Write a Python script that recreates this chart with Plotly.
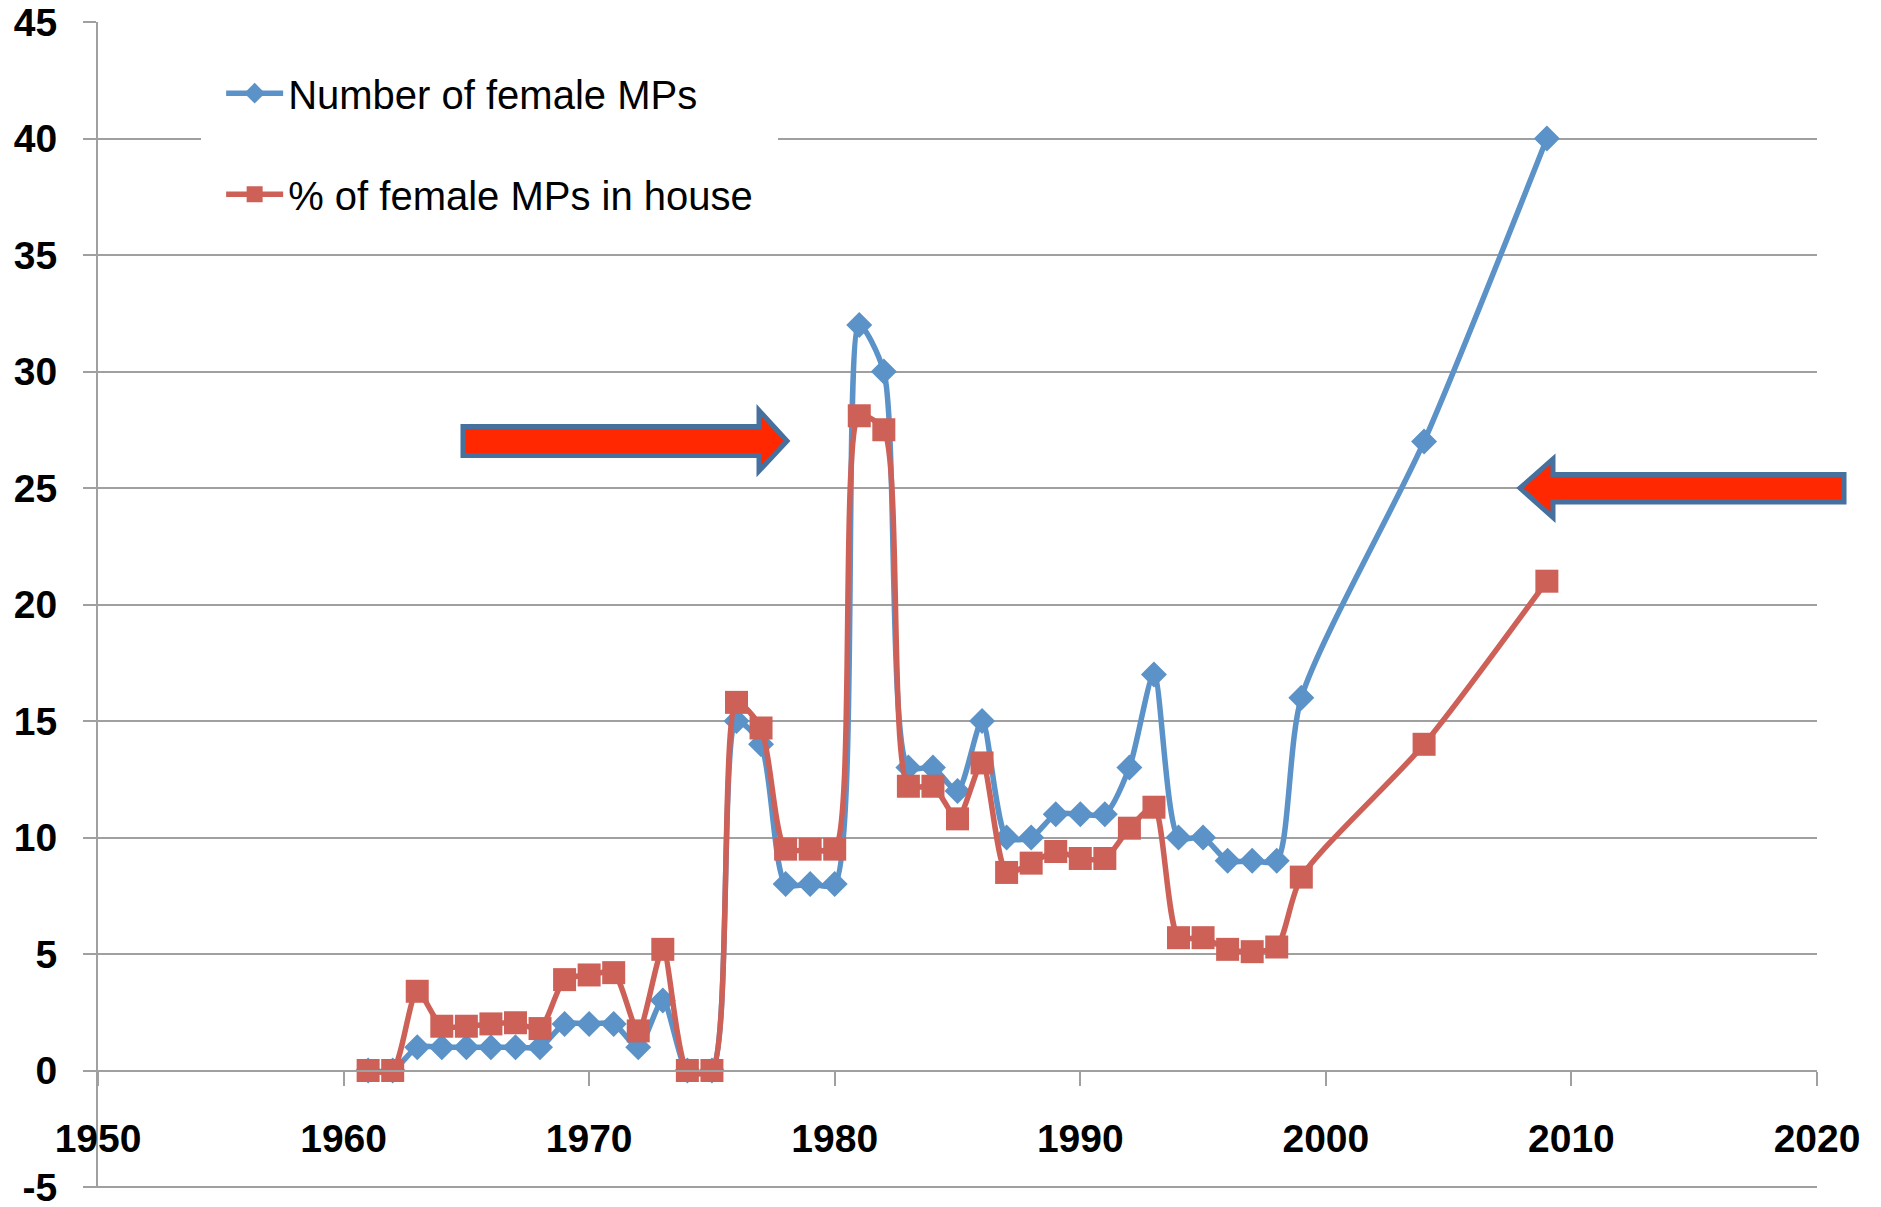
import plotly.graph_objects as go

# ---- data ----
years_num = [1961, 1962, 1963, 1964, 1965, 1966, 1967, 1968, 1969, 1970, 1971, 1972, 1973,
             1974, 1975, 1976, 1977, 1978, 1979, 1980, 1981, 1982, 1983, 1984, 1985, 1986,
             1987, 1988, 1989, 1990, 1991, 1992, 1993, 1994, 1995, 1996, 1997, 1998, 1999,
             2004, 2009]
num_female_mps = [0, 0, 1, 1, 1, 1, 1, 1, 2, 2, 2, 1, 3,
                  0, 0, 15, 14, 8, 8, 8, 32, 30, 13, 13, 12, 15,
                  10, 10, 11, 11, 11, 13, 17, 10, 10, 9, 9, 9, 16,
                  27, 40]
pct_female_mps = [0, 0, 3.4, 1.9, 1.9, 2.0, 2.05, 1.8, 3.9, 4.1, 4.2, 1.7, 5.2,
                  0, 0, 15.8, 14.7, 9.5, 9.5, 9.5, 28.1, 27.5, 12.2, 12.2, 10.8, 13.2,
                  8.5, 8.9, 9.4, 9.1, 9.1, 10.4, 11.3, 5.7, 5.7, 5.2, 5.1, 5.3, 8.3,
                  14.0, 21.0]
series_names = ["Number of female MPs", "% of female MPs in house"]
y_tick_vals = [-5, 0, 5, 10, 15, 20, 25, 30, 35, 40, 45]
y_tick_text = ["-5", "0", "5", "10", "15", "20", "25", "30", "35", "40", "45"]

W, H = 1881, 1207
ML, MR, MT, MB = 98, 64, 22, 20
PW, PH = W - ML - MR, H - MT - MB

BLUE = "#5B92C8"
RED = "#CD6158"
GRID = "#A0A0A0"
FONT = "Liberation Sans, Arial, sans-serif"

fig = go.Figure()
fig.add_trace(go.Scatter(
    x=years_num, y=num_female_mps, name=series_names[0], mode="lines+markers",
    line=dict(color=BLUE, width=5.5, shape="spline", smoothing=0.7),
    marker=dict(symbol="diamond", size=20, color=BLUE),
    legendgroup="a"))
fig.add_trace(go.Scatter(
    x=years_num, y=pct_female_mps, name=series_names[1], mode="lines+markers",
    line=dict(color=RED, width=5.5, shape="spline", smoothing=0.7),
    marker=dict(symbol="square", size=23, color=RED),
    legendgroup="b"))


def px(xp, yp):
    return (xp - ML) / PW, (H - MB - yp) / PH


def arrow_path(pts):
    s = ""
    for i, (a, b) in enumerate(pts):
        xx, yy = px(a, b)
        s += ("M" if i == 0 else "L") + f"{xx:.5f},{yy:.5f} "
    return s + "Z"


# right-pointing arrow
a1 = [(463, 426.5), (759, 426.5), (759, 410.5), (787, 441), (759, 471), (759, 455.5), (463, 455.5)]
# left-pointing arrow
a2 = [(1844, 474.5), (1553, 474.5), (1553, 459), (1520, 488), (1553, 517.5), (1553, 502), (1844, 502)]
shapes = []
# bottom gridline (-5) with its tick
shapes.append(dict(type="line", xref="paper", yref="paper", x0=-13 / PW, x1=1, y0=0, y1=0,
                   line=dict(color=GRID, width=2), layer="below"))
for pts in (a1, a2):
    shapes.append(dict(type="path", xref="paper", yref="paper", path=arrow_path(pts),
                       fillcolor="#FF2800", line=dict(color="#46709E", width=5),
                       layer="above"))

fig.update_layout(
    template="none",
    width=W, height=H,
    margin=dict(l=ML, r=MR, t=MT, b=MB, autoexpand=False),
    paper_bgcolor="white", plot_bgcolor="white",
    font=dict(family=FONT, color="black"),
    shapes=shapes,
    showlegend=True,
    legend=dict(x=0.06, y=0.984, xanchor="left", yanchor="top",
                bgcolor="white", bordercolor="white", borderwidth=20,
                font=dict(family=FONT, size=40, color="black"),
                itemwidth=57, traceorder="grouped", tracegroupgap=46),
    xaxis=dict(range=[1950, 2020], dtick=10, tick0=1950,
               anchor="free", position=0.1, automargin=False,
               showline=True, linecolor=GRID, linewidth=2,
               ticks="outside", ticklen=14, tickcolor=GRID, tickwidth=1.5,
               showgrid=False, zeroline=False,
               tickfont=dict(family=FONT, size=39, color="black", weight="bold"),
               ticklabelstandoff=20),
    yaxis=dict(range=[-5, 45], tickmode="array", tickvals=y_tick_vals, ticktext=y_tick_text,
               automargin=False,
               showline=True, linecolor=GRID, linewidth=2,
               ticks="outside", ticklen=13, tickcolor=GRID, tickwidth=2,
               showgrid=True, gridcolor=GRID, gridwidth=2, zeroline=False,
               ticklabeloverflow="allow",
               tickfont=dict(family=FONT, size=39, color="black", weight="bold"),
               ticklabelstandoff=18),
)

fig.write_html("out.html", config={"displayModeBar": False},
               post_script="document.body.style.margin='0';")
